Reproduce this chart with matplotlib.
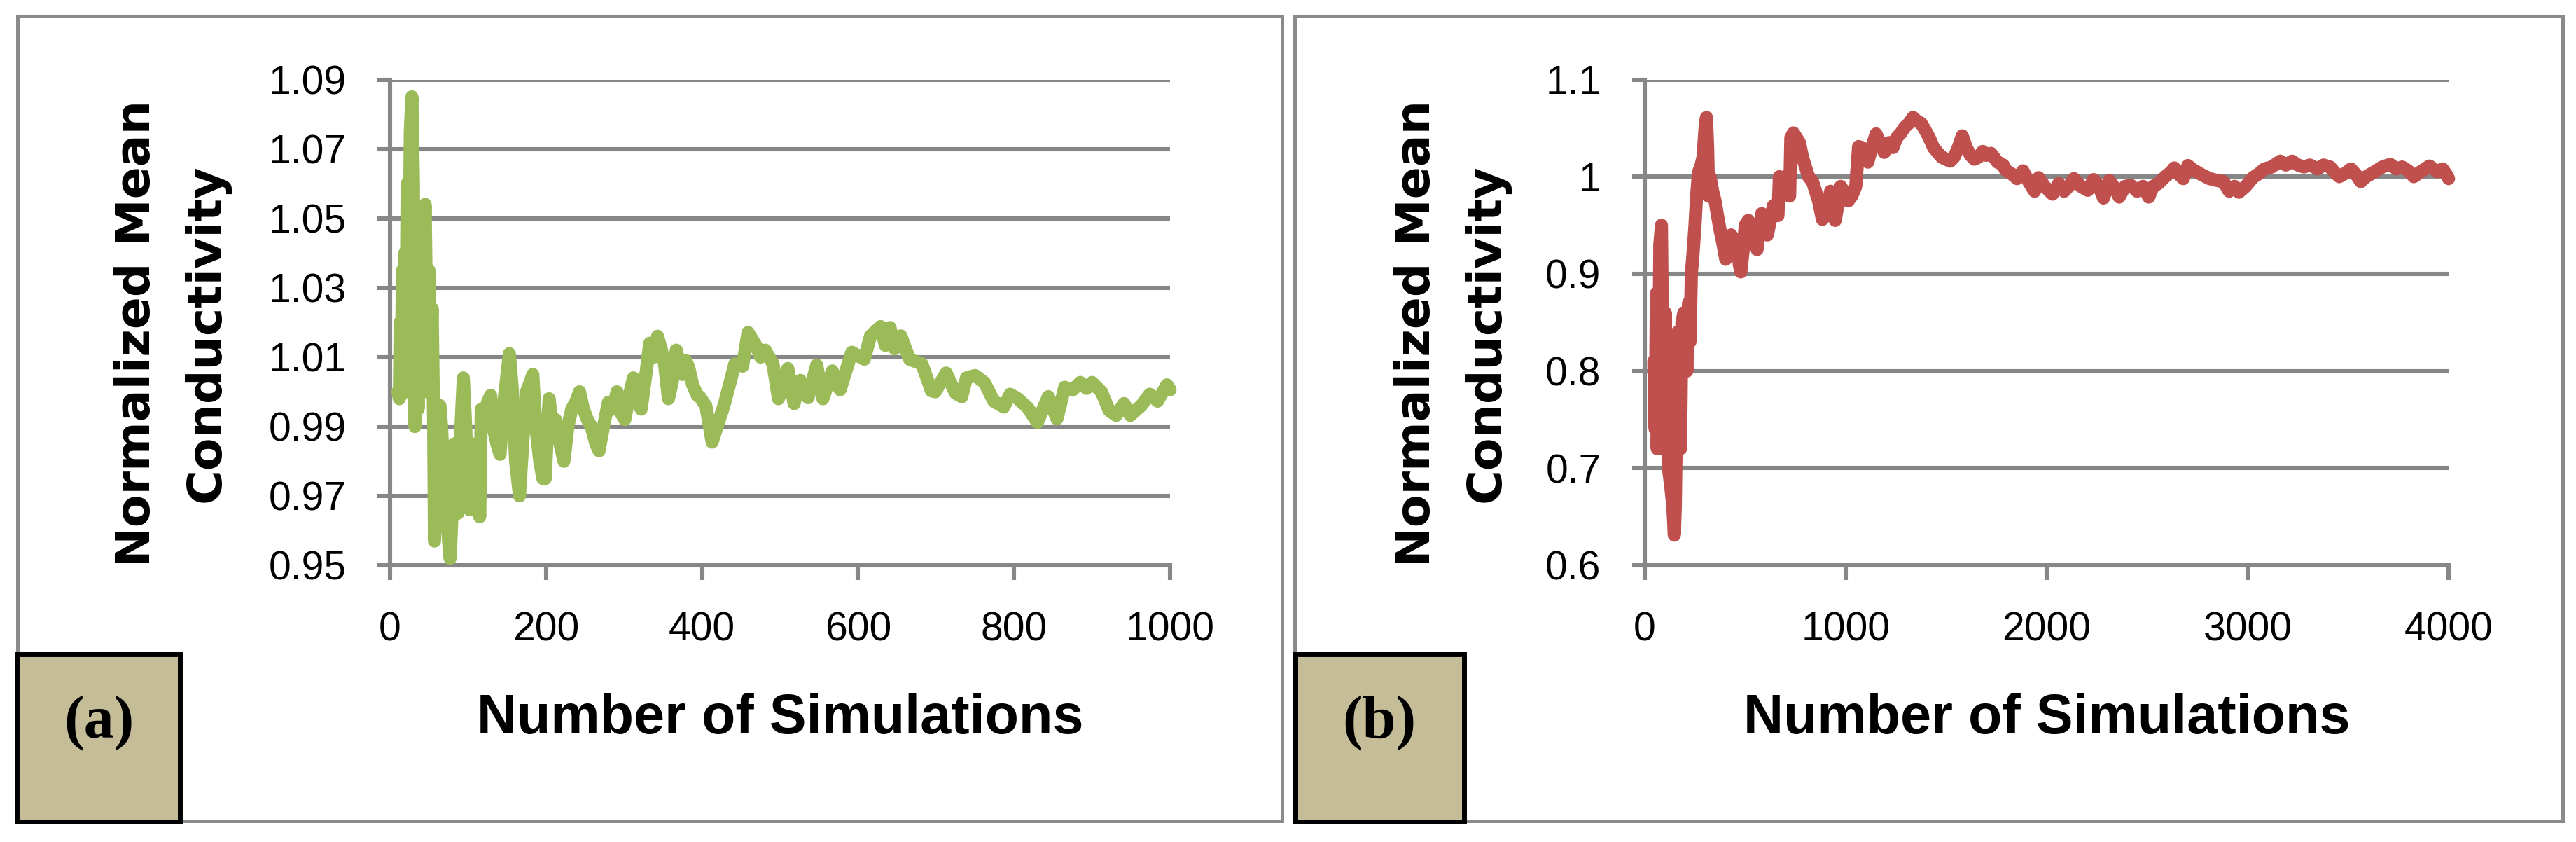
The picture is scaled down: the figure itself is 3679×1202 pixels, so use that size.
import matplotlib
matplotlib.use('Agg')
import matplotlib.pyplot as plt
from matplotlib.patches import Rectangle

# ============================================================================
# DATA
# ============================================================================

# Panel (a): running mean over the first 1000 simulations
a_sims = [10, 12, 13, 14, 16, 17, 19, 20, 22, 23, 26, 28, 30, 31, 32, 34, 36, 40, 42, 44,
          45, 47, 48, 50, 52, 54, 56, 57, 59, 62, 64, 66, 70, 74, 77, 79, 82, 85, 87, 89,
          92, 94, 97, 100, 102, 105, 108, 112, 115, 117, 121, 125, 129, 132, 137, 141, 145, 150, 153, 157,
          161, 166, 170, 175, 180, 183, 187, 192, 196, 199, 202, 204, 208, 212, 218, 223, 228, 233, 238, 243,
          248, 253, 258, 264, 268, 272, 280, 286, 291, 296, 301, 306, 312, 317, 322, 328, 333, 338, 343, 348,
          352, 357, 362, 367, 371, 375, 379, 383, 388, 394, 397, 405, 413, 420, 428, 436, 442, 452, 459, 469,
          475, 481, 491, 498, 510, 518, 526, 536, 547, 555, 567, 577, 592, 608, 616, 629, 635, 641, 647, 655,
          666, 682, 694, 699, 713, 725, 733, 739, 750, 762, 774, 787, 795, 805, 818, 830, 844, 855, 865, 875,
          885, 893, 900, 912, 922, 931, 941, 949, 963, 974, 984, 996, 1000]
a_cond = [1.000, 0.998, 1.020, 0.999, 1.035, 1.000, 1.040, 1.000, 1.060, 1.002, 1.075, 1.085, 1.060, 1.000, 0.990, 1.010, 0.995, 1.030, 1.000, 1.045,
          1.054, 1.020, 1.000, 1.035, 1.010, 1.024, 0.990, 0.957, 0.975, 0.962, 0.996, 0.990, 0.970, 0.960, 0.952, 0.962, 0.985, 0.975, 0.965, 0.980,
          0.995, 1.004, 0.990, 0.970, 0.966, 0.985, 0.975, 0.970, 0.964, 0.995, 0.990, 0.997, 0.999, 0.990, 0.985, 0.982, 0.995, 1.005, 1.011, 1.000,
          0.980, 0.970, 0.985, 1.000, 1.003, 1.005, 0.990, 0.980, 0.975, 0.975, 0.990, 0.998, 0.990, 0.992, 0.985, 0.980, 0.990, 0.995, 0.997, 1.000,
          0.995, 0.992, 0.990, 0.985, 0.983, 0.988, 0.997, 0.995, 1.000, 0.994, 0.992, 0.998, 1.004, 0.997, 0.995, 1.005, 1.014, 1.010, 1.016, 1.012,
          1.008, 0.998, 1.003, 1.012, 1.008, 1.005, 1.009, 1.007, 1.002, 0.999, 0.9986, 0.9959, 0.9855, 0.9905, 0.9959, 1.0027, 1.0080, 1.0074, 1.0171, 1.0134,
          1.0100, 1.0120, 1.0080, 0.9980, 1.0067, 0.9966, 1.0033, 0.9983, 1.0077, 0.9980, 1.0060, 1.0006, 1.0114, 1.0094, 1.0161, 1.0188, 1.0134, 1.0185, 1.0124, 1.0161,
          1.0094, 1.0080, 1.0003, 1.0000, 1.0054, 0.9996, 0.9986, 1.0040, 1.0047, 1.0027, 0.9973, 0.9956, 0.9993, 0.9980, 0.9953, 0.9912, 0.9986, 0.9922, 1.0013, 1.0005,
          1.0027, 1.0010, 1.0027, 1.0000, 0.9946, 0.9932, 0.9966, 0.9932, 0.9960, 0.9993, 0.9973, 1.0020, 1.0006]

# Panel (b): running mean over 4000 simulations
b_sims = [45, 52, 58, 62, 70, 75, 83, 90, 95, 102, 110, 118, 130, 140, 147, 152, 158, 163, 170, 178,
          185, 195, 205, 210, 218, 225, 232, 240, 250, 258, 268, 278, 290, 300, 307, 313, 318, 325, 338, 350,
          362, 375, 390, 403, 415, 430, 445, 460, 470, 478, 490, 500, 515, 530, 545, 559, 570, 582, 595, 610,
          625, 640, 655, 663, 670, 685, 700, 712, 721, 727, 740, 755, 770, 785, 800, 815, 835, 850, 865, 884,
          900, 915, 925, 935, 948, 960, 975, 990, 1012, 1030, 1050, 1064, 1080, 1095, 1110, 1130, 1151, 1170, 1192, 1215,
          1235, 1253, 1275, 1294, 1315, 1335, 1355, 1375, 1395, 1416, 1437, 1457, 1478, 1498, 1520, 1539, 1560, 1580, 1600, 1621,
          1640, 1660, 1682, 1700, 1723, 1755, 1784, 1794, 1825, 1853, 1882, 1910, 1940, 1960, 1990, 2029, 2060, 2087, 2110, 2136,
          2170, 2205, 2234, 2260, 2283, 2312, 2340, 2361, 2390, 2420, 2450, 2480, 2508, 2530, 2556, 2590, 2620, 2635, 2660, 2680,
          2703, 2730, 2772, 2810, 2850, 2880, 2908, 2935, 2957, 2990, 3026, 3055, 3084, 3120, 3162, 3190, 3221, 3250, 3280, 3310,
          3348, 3378, 3410, 3440, 3456, 3490, 3514, 3540, 3563, 3590, 3632, 3670, 3710, 3740, 3769, 3800, 3827, 3860, 3905, 3925,
          3944, 3970, 3990, 4000]
b_cond = [0.810, 0.740, 0.880, 0.720, 0.800, 0.930, 0.950, 0.800, 0.720, 0.860, 0.750, 0.700, 0.680, 0.660, 0.631, 0.660, 0.750, 0.840, 0.800, 0.720,
          0.850, 0.860, 0.810, 0.800, 0.870, 0.830, 0.900, 0.920, 0.950, 0.980, 1.005, 1.010, 1.020, 1.050, 1.061, 1.030, 0.980, 1.000, 0.985, 0.975,
          0.960, 0.945, 0.930, 0.915, 0.925, 0.940, 0.920, 0.935, 0.910, 0.902, 0.925, 0.950, 0.955, 0.940, 0.935, 0.925, 0.945, 0.962, 0.960, 0.940,
          0.955, 0.970, 0.960, 0.960, 1.000, 0.990, 1.000, 0.985, 0.980, 1.040, 1.045, 1.040, 1.035, 1.020, 1.010, 1.000, 0.995, 0.985, 0.975, 0.956,
          0.960, 0.975, 0.985, 0.970, 0.955, 0.970, 0.990, 0.985, 0.975, 0.980, 0.990, 1.031, 1.030, 1.020, 1.015, 1.030, 1.044, 1.035, 1.025, 1.035,
          1.030, 1.040, 1.045, 1.051, 1.055, 1.061, 1.057, 1.055, 1.048, 1.040, 1.030, 1.025, 1.020, 1.018, 1.016, 1.020, 1.030, 1.042, 1.030, 1.022,
          1.018, 1.020, 1.026, 1.022, 1.024, 1.015, 1.012, 1.007, 1.003, 0.998, 1.006, 0.995, 0.985, 0.999, 0.990, 0.982, 0.993, 0.985, 0.990, 0.998,
          0.990, 0.986, 0.997, 0.990, 0.978, 0.996, 0.988, 0.979, 0.990, 0.991, 0.985, 0.990, 0.979, 0.990, 0.993, 1.000, 1.005, 1.009, 1.002, 0.998,
          1.0115, 1.007, 1.002, 0.998, 0.996, 0.995, 0.985, 0.990, 0.984, 0.990, 0.999, 1.003, 1.008, 1.010, 1.016, 1.012, 1.016, 1.012, 1.010, 1.012,
          1.008, 1.012, 1.010, 1.003, 1.000, 1.004, 1.008, 1.002, 0.995, 1.000, 1.005, 1.010, 1.0127, 1.008, 1.010, 1.006, 1.000, 1.005, 1.011, 1.008,
          1.005, 1.008, 1.002, 0.998]

a_yticks = [0.95, 0.97, 0.99, 1.01, 1.03, 1.05, 1.07, 1.09]
a_ylabels = ['0.95', '0.97', '0.99', '1.01', '1.03', '1.05', '1.07', '1.09']
a_xticks = [0, 200, 400, 600, 800, 1000]
b_yticks = [0.6, 0.7, 0.8, 0.9, 1.0, 1.1]
b_ylabels = ['0.6', '0.7', '0.8', '0.9', '1', '1.1']
b_xticks = [0, 1000, 2000, 3000, 4000]

# ============================================================================
# FIGURE
# ============================================================================

W, H = 3679, 1202
fig = plt.figure(figsize=(W / 100, H / 100), dpi=100)

GRID = '#878787'
TAN = '#C4BD97'


def px_rect(x0, y0, x1, y1):
    # pixel box (top-left origin) -> figure fraction [left, bottom, width, height]
    return [x0 / W, 1 - y1 / H, (x1 - x0) / W, (y1 - y0) / H]


def setup_axes(ax, xmax, yticks, ylabels, xticks):
    ax.set_xlim(0, xmax)
    ax.set_ylim(yticks[0], yticks[-1])
    ax.set_yticks(yticks)
    ax.set_yticklabels(ylabels)
    ax.set_xticks(xticks)
    ax.set_xticklabels([str(t) for t in xticks])
    ax.yaxis.grid(True, color=GRID, linewidth=4.4)
    ax.set_axisbelow(True)
    for side in ['top', 'right']:
        ax.spines[side].set_visible(False)
    for side in ['left', 'bottom']:
        ax.spines[side].set_color(GRID)
        ax.spines[side].set_linewidth(4.4)
    ax.tick_params(axis='y', direction='out', length=13, width=4.4, color=GRID, pad=32,
                   labelsize=41, labelfontfamily='Liberation Sans')
    ax.tick_params(axis='x', direction='out', length=15, width=4.4, color=GRID, pad=32,
                   labelsize=41, labelfontfamily='Liberation Sans')
    ax.set_xlabel('Number of Simulations', fontsize=57, fontweight='bold', family='Liberation Sans')
    ax.xaxis.set_label_coords(0.5, -0.346)
    ax.xaxis.label.set_va('baseline')
    ax.set_ylabel('Normalized Mean\nConductivity', fontsize=49, fontweight='bold',
                  family='DejaVu Sans', linespacing=1.65, multialignment='center')
    ax.yaxis.label.set_va('center')


# outer panel frames
for x0, x1 in [(24.5, 1831), (1849, 3660)]:
    fig.patches.append(Rectangle((x0 / W, 1 - 1172 / H), (x1 - x0) / W, (1172 - 22.5) / H,
                                 transform=fig.transFigure, fill=False,
                                 edgecolor='#8a8a8a', linewidth=3.6, zorder=0))

ax1 = fig.add_axes(px_rect(557, 113.5, 1671, 807))
ax2 = fig.add_axes(px_rect(2349, 113.5, 3497, 807))

setup_axes(ax1, 1000, a_yticks, a_ylabels, a_xticks)
setup_axes(ax2, 4000, b_yticks, b_ylabels, b_xticks)
ax1.yaxis.set_label_coords(-0.2796, 0.477)
ax2.yaxis.set_label_coords((245 + 1828 - 2349) / 1148, 0.477)

ax1.plot(a_sims, a_cond, color='#9BBB59', linewidth=13.5, solid_capstyle='round',
         solid_joinstyle='round', clip_on=False, zorder=3)
ax2.plot(b_sims, b_cond, color='#C0504D', linewidth=13.5, solid_capstyle='round',
         solid_joinstyle='round', clip_on=False, zorder=3)

# panel tags
for x0, x1, cx, tag in [(24, 256.5, 141, '(a)'), (1849.5, 2090.5, 1970, '(b)')]:
    fig.patches.append(Rectangle((x0 / W, 1 - 1173 / H), (x1 - x0) / W, (1173 - 933.5) / H,
                                 transform=fig.transFigure, facecolor=TAN,
                                 edgecolor='black', linewidth=5, zorder=5))
    fig.text(cx / W, 1 - 1032 / H, tag, ha='center', va='center', fontsize=62,
             fontweight='bold', family='Liberation Serif', zorder=6)

plt.savefig('out.png', dpi=100)
plt.close()
